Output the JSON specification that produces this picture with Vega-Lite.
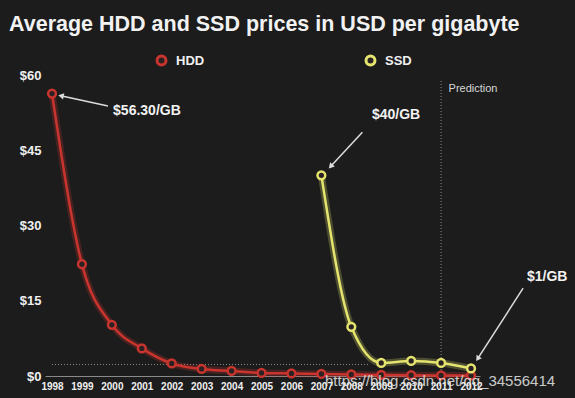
{
  "$schema": "https://vega.github.io/schema/vega-lite/v6.json",
  "autosize": {"type": "none"},
  "width": 435,
  "height": 301,
  "padding": {"left": 45, "top": 75, "right": 95, "bottom": 22},
  "background": "#1c1c1c",
  "title": {
    "text": "Average HDD and SSD prices in USD per gigabyte",
    "anchor": "start",
    "frame": "group",
    "dx": -36,
    "offset": 19,
    "font": "Liberation Sans",
    "fontSize": 21.5,
    "fontWeight": "bold",
    "color": "#f2f2f2"
  },
  "config": {
    "view": {"stroke": null},
    "font": "Liberation Sans"
  },
  "datasets": {
    "prices": [
      {"year": 1998, "price": 56.3, "type": "HDD"},
      {"year": 1999, "price": 22.3, "type": "HDD"},
      {"year": 2000, "price": 10.2, "type": "HDD"},
      {"year": 2001, "price": 5.5, "type": "HDD"},
      {"year": 2002, "price": 2.5, "type": "HDD"},
      {"year": 2003, "price": 1.4, "type": "HDD"},
      {"year": 2004, "price": 1.0, "type": "HDD"},
      {"year": 2005, "price": 0.6, "type": "HDD"},
      {"year": 2006, "price": 0.5, "type": "HDD"},
      {"year": 2007, "price": 0.4, "type": "HDD"},
      {"year": 2008, "price": 0.3, "type": "HDD"},
      {"year": 2009, "price": 0.2, "type": "HDD"},
      {"year": 2010, "price": 0.15, "type": "HDD"},
      {"year": 2011, "price": 0.12, "type": "HDD"},
      {"year": 2012, "price": 0.1, "type": "HDD"},
      {"year": 2007, "price": 40, "type": "SSD"},
      {"year": 2008, "price": 9.8, "type": "SSD"},
      {"year": 2009, "price": 2.6, "type": "SSD"},
      {"year": 2010, "price": 3.0, "type": "SSD"},
      {"year": 2011, "price": 2.6, "type": "SSD"},
      {"year": 2012, "price": 1.5, "type": "SSD"}
    ],
    "guides": [
      {"year": 1998, "year2": 2008.6, "price": 2.3, "price2": 2.3},
      {"year": 2011, "year2": 2011, "price": 0, "price2": 59}
    ],
    "arrows": [
      {"id": "hdd", "year": 1999.87, "price": 53.8, "year2": 1998.33, "price2": 55.8},
      {"id": "ssd", "year": 2008.37, "price": 48.6, "year2": 2007.33, "price2": 41.9},
      {"id": "one", "year": 2013.74, "price": 17.5, "year2": 2012.24, "price2": 3.6}
    ],
    "heads": [
      {"id": "hdd", "year": 1998.33, "price": 55.8},
      {"id": "ssd", "year": 2007.33, "price": 41.9},
      {"id": "one", "year": 2012.24, "price": 3.6}
    ],
    "labels": [
      {"year": 2000.04, "price": 52.8, "text": "$56.30/GB"},
      {"year": 2008.69, "price": 52.0, "text": "$40/GB"},
      {"year": 2013.87, "price": 19.7, "text": "$1/GB"}
    ]
  },
  "encoding": {
    "x": {
      "field": "year", "type": "quantitative",
      "scale": {"domain": [1997.766, 2012.3], "nice": false, "zero": false},
      "axis": {
        "title": null, "values": [1998,1999,2000,2001,2002,2003,2004,2005,2006,2007,2008,2009,2010,2011,2012],
        "format": "d", "grid": false, "ticks": false, "labelOverlap": false,
        "domainColor": "#8a8a8a", "domainWidth": 1,
        "labelColor": "#f0f0f0", "labelFont": "Liberation Sans", "labelFontWeight": "bold",
        "labelFontSize": 10, "labelPadding": 5, "labelDx": -3, "labelFlush": false
      }
    },
    "y": {
      "field": "price", "type": "quantitative",
      "scale": {"domain": [0, 60], "nice": false},
      "axis": {
        "title": null, "values": [0, 15, 30, 45, 60], "grid": false, "ticks": false, "domain": false,
        "labelExpr": "'$' + datum.value",
        "labelColor": "#f0f0f0", "labelFont": "Liberation Sans", "labelFontWeight": "bold",
        "labelFontSize": 13, "labelPadding": 4
      }
    }
  },
  "layer": [
    {
      "data": {"name": "guides"},
      "mark": {"type": "rule", "color": "#8a8a8a", "strokeDash": [1, 2], "strokeWidth": 1},
      "encoding": {
        "x2": {"field": "year2"},
        "y2": {"field": "price2"}
      }
    },
    {
      "data": {"name": "prices"},
      "mark": {"type": "line", "interpolate": "monotone", "strokeWidth": 7, "opacity": 0.25},
      "encoding": {
        "color": {
          "field": "type", "type": "nominal",
          "scale": {"domain": ["HDD", "SSD"], "range": ["#c9352e", "#e4e46e"]},
          "legend": {
            "title": null, "orient": "none", "direction": "horizontal",
            "legendX": 110, "legendY": -21,
            "symbolType": "circle", "symbolSize": 80, "symbolStrokeWidth": 3,
            "symbolFillColor": "#2a2222", "symbolOpacity": 1,
            "labelColor": "#f0f0f0", "labelFont": "Liberation Sans", "labelFontWeight": "bold",
            "labelFontSize": 13, "labelOffset": 8,
            "gridAlign": "all", "columnPadding": 155
          }
        }
      }
    },
    {
      "data": {"name": "prices"},
      "mark": {"type": "line", "interpolate": "monotone", "strokeWidth": 2.5},
      "encoding": {
        "color": {"field": "type", "type": "nominal"}
      }
    },
    {
      "data": {"name": "prices"},
      "mark": {"type": "point", "shape": "circle", "filled": false, "fill": "#2a2222", "fillOpacity": 1, "size": 60, "strokeWidth": 2.5, "opacity": 1},
      "encoding": {
        "color": {"field": "type", "type": "nominal"}
      }
    },
    {
      "data": {"name": "arrows"},
      "mark": {"type": "rule", "color": "#dcdcdc", "strokeWidth": 1.5},
      "encoding": {
        "x2": {"field": "year2"},
        "y2": {"field": "price2"}
      }
    },
    {
      "data": {"name": "heads"},
      "transform": [{"filter": "datum.id == 'hdd'"}],
      "mark": {"type": "point", "shape": "triangle", "filled": true, "color": "#dcdcdc", "size": 40, "angle": 282, "opacity": 1},
      "encoding": {}
    },
    {
      "data": {"name": "heads"},
      "transform": [{"filter": "datum.id == 'ssd'"}],
      "mark": {"type": "point", "shape": "triangle", "filled": true, "color": "#dcdcdc", "size": 40, "angle": 222, "opacity": 1},
      "encoding": {}
    },
    {
      "data": {"name": "heads"},
      "transform": [{"filter": "datum.id == 'one'"}],
      "mark": {"type": "point", "shape": "triangle", "filled": true, "color": "#dcdcdc", "size": 40, "angle": 213, "opacity": 1},
      "encoding": {}
    },
    {
      "data": {"name": "labels"},
      "mark": {"type": "text", "align": "left", "baseline": "middle", "font": "Liberation Sans", "fontWeight": "bold", "fontSize": 14, "color": "#f2f2f2"},
      "encoding": {
        "text": {"field": "text"}
      }
    },
    {
      "data": {"values": [{"year": 2011.25, "price": 57.2, "text": "Prediction"}]},
      "mark": {"type": "text", "align": "left", "baseline": "middle", "font": "Liberation Sans", "fontSize": 11, "color": "#d8d8d8"},
      "encoding": {
        "text": {"field": "text"}
      }
    },
    {
      "data": {"values": [{"year": 2007.12, "price": -1, "text": "https://blog.csdn.net/qq_34556414"}]},
      "mark": {"type": "text", "align": "left", "baseline": "middle", "font": "Liberation Sans", "fontSize": 15, "color": "#e8e8e8", "opacity": 0.85},
      "encoding": {
        "text": {"field": "text"}
      }
    }
  ]
}
